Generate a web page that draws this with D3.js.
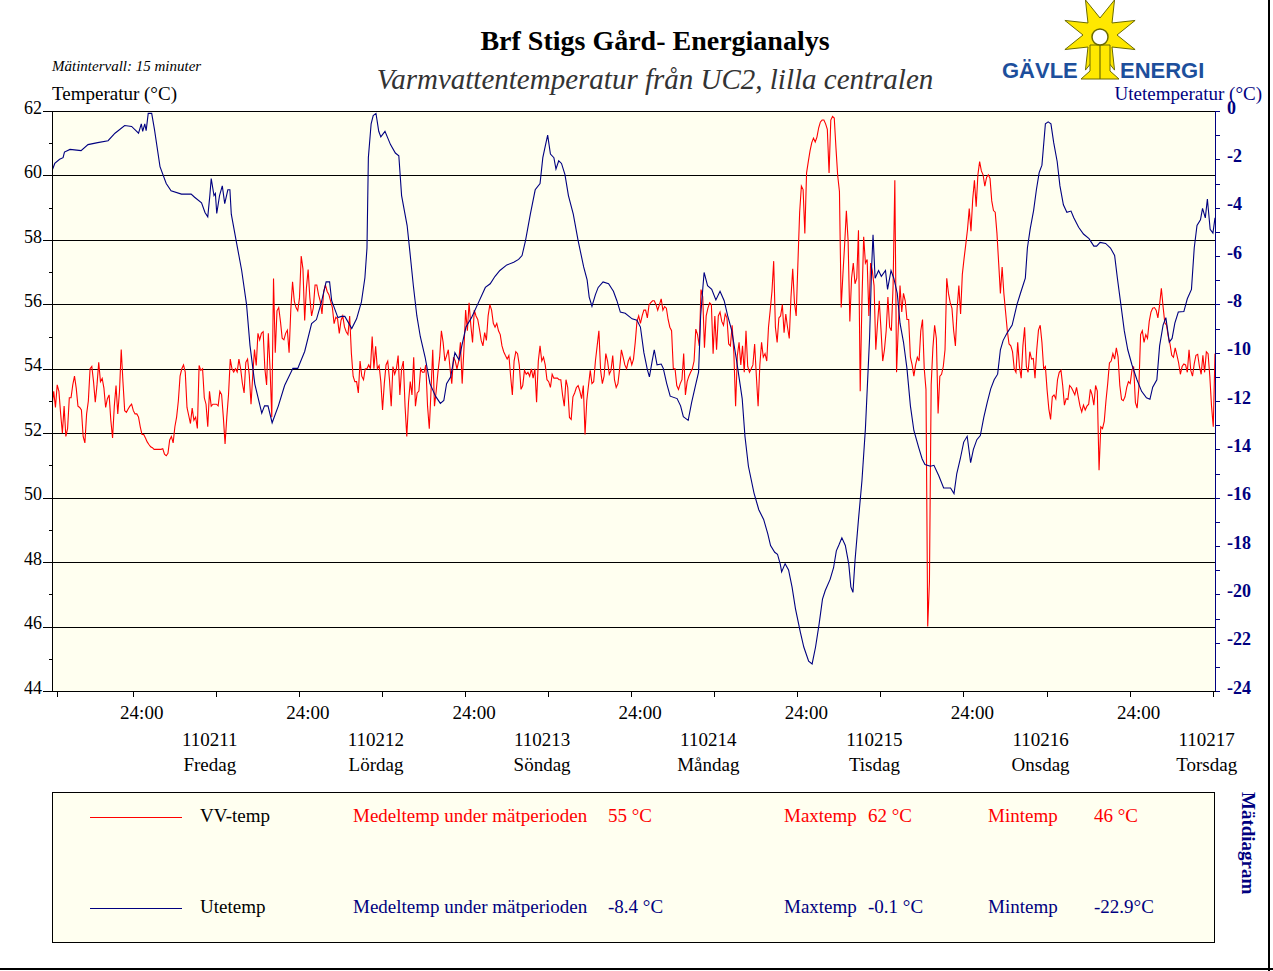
<!DOCTYPE html>
<html><head><meta charset="utf-8">
<script src="https://cdn.jsdelivr.net/npm/d3@7"></script>
<style>
body{margin:0;background:#fff}
svg{display:block}
</style>
</head><body>
<svg id="c" width="1273" height="971"></svg>
<script>
// ---------------- DATA ----------------
const startTime = new Date(2011, 1, 10, 12, 20);
const stepMinutes = 15;
const spanHours = 168;

// VV-temp (°C), one value per 15 minutes
const vvTemp = [
52.84,53.3,52.8,53.5,53.3,52.6,52.0,52.84,51.9,52.14,
53.1,53.1,53.5,53.77,53.4,52.84,52.8,52.72,51.9,51.7,
52.6,53.0,54.0,54.07,53.6,52.96,53.5,54.2,53.6,53.7,
53.4,52.8,53.07,53.19,52.4,51.85,52.84,53.48,52.6,53.3,
54.6,53.6,52.7,52.65,52.75,52.84,52.9,52.7,52.6,52.6,
52.5,52.2,51.96,51.96,51.85,51.73,51.65,51.58,51.55,51.5,
51.5,51.5,51.5,51.5,51.52,51.35,51.3,51.38,51.79,51.9,
51.7,52.2,52.5,53.0,53.77,54.0,54.12,53.9,52.8,52.55,
52.3,52.78,52.4,52.5,52.15,54.1,53.95,54.0,53.1,52.9,
52.2,53.3,52.84,52.9,52.9,52.9,52.85,53.3,53.2,52.5,
51.67,52.5,53.2,54.3,54.0,53.9,54.0,53.9,54.3,54.0,
53.55,53.25,54.2,54.3,53.8,52.9,53.8,54.6,54.1,55.1,
54.9,55.1,55.15,54.0,53.5,55.1,54.0,52.5,56.8,54.5,
55.8,55.9,55.47,54.95,54.9,55.1,55.2,54.5,55.85,56.7,
56.1,55.9,55.8,56.2,57.5,57.1,55.5,56.5,57.08,56.2,
55.64,55.9,56.6,56.6,56.3,56.1,55.7,56.4,56.6,56.4,
56.3,56.1,55.9,55.4,55.6,55.55,55.1,55.5,55.64,55.3,
55.15,55.06,55.64,54.47,53.77,53.6,53.6,53.25,54.24,53.77,
53.66,54.0,54.0,54.12,54.0,55.0,54.0,54.7,54.0,54.1,
53.6,52.72,53.54,54.12,54.24,53.66,52.84,54.07,53.83,54.0,
54.41,53.19,54.0,54.24,52.84,51.9,52.96,53.6,53.19,54.36,
52.84,53.25,53.31,54.0,53.89,53.89,54.12,52.84,52.14,53.31,
54.59,52.84,53.31,53.89,54.36,55.18,54.82,54.24,54.41,54.59,
54.0,53.54,54.36,54.24,54.0,54.24,54.82,53.54,54.59,55.82,
55.18,56.05,55.35,54.82,55.82,55.64,55.53,55.23,54.88,54.71,
55.12,54.88,55.64,55.99,55.82,55.41,55.29,55.41,55.18,55.06,
54.71,54.53,54.41,54.3,54.41,53.77,53.19,54.24,54.53,54.47,
54.12,53.36,53.48,53.95,53.83,53.89,53.77,54.0,53.71,54.0,
52.96,54.24,54.71,54.24,54.36,54.12,53.66,53.6,53.42,53.83,
53.71,53.71,53.71,53.66,53.66,53.19,52.84,53.66,53.42,52.49,
52.43,53.13,53.25,53.42,53.48,53.31,53.07,53.48,51.96,53.01,
53.48,53.95,53.54,53.6,54.24,54.71,55.18,53.95,53.54,53.77,
54.47,54.24,53.83,53.95,54.41,53.66,53.42,53.54,54.0,54.59,
54.36,54.12,54.0,54.24,54.36,54.12,54.3,54.82,55.47,55.64,
55.41,55.64,55.82,55.82,55.58,55.99,56.05,56.11,56.11,55.99,
55.82,55.99,56.17,55.82,55.93,55.88,55.53,55.29,55.18,54.0,
54.0,53.48,53.36,53.54,53.66,54.47,53.19,53.6,53.77,53.89,
54.0,54.24,55.23,55.06,54.71,56.46,56.23,54.65,55.64,55.88,
56.05,55.99,54.47,55.64,54.59,55.64,55.76,55.47,55.35,55.7,
55.58,54.77,54.71,55.35,54.47,52.84,54.41,54.82,54.12,54.71,
53.89,55.18,54.07,53.89,54.0,54.12,54.77,53.77,52.84,54.12,
54.82,54.36,54.47,54.24,55.29,55.82,56.4,57.34,55.29,54.82,
55.58,55.64,55.99,55.12,55.7,55.29,54.94,56.23,57.1,56.05,
55.64,57.28,58.85,59.67,59.56,58.2,60.08,60.43,60.76,61.02,
61.16,61.04,61.19,61.48,61.66,61.72,61.72,61.6,61.43,60.08,
61.72,61.83,61.78,60.84,59.99,59.5,55.9,56.93,57.86,58.9,
57.98,55.47,56.81,57.28,56.64,56.81,58.3,53.3,56.11,58.1,
57.28,57.39,55.64,57.28,57.04,56.58,54.59,55.41,56.11,55.23,
54.24,54.59,55.18,56.23,55.29,55.18,56.58,59.85,53.89,55.29,
56.58,55.76,56.34,56.11,55.53,55.53,54.36,54.12,53.77,54.12,
54.36,54.24,55.18,55.53,54.0,53.36,46.0,47.4,53.5,54.65,
55.35,54.94,52.61,53.77,53.83,54.07,54.59,56.81,56.34,56.05,
55.88,55.18,54.71,55.88,56.58,55.7,56.93,57.42,57.86,58.33,
58.97,58.27,59.26,59.85,59.03,60.02,60.43,60.14,60.02,59.67,
59.94,60.02,59.91,59.21,58.91,58.86,58.21,57.28,56.34,57.16,
56.34,55.76,55.18,54.77,54.71,54.53,54.0,53.89,54.82,54.07,
53.71,54.71,55.29,54.07,53.89,54.53,54.3,54.32,53.71,54.59,
55.2,55.35,54.82,54.0,54.07,53.33,52.75,52.43,53.13,53.19,
53.07,53.66,53.89,53.95,53.48,52.87,53.07,53.05,53.48,53.42,
53.31,53.19,53.42,53.13,52.84,52.66,52.87,52.72,52.84,52.9,
53.36,53.19,52.87,53.48,53.31,50.85,52.2,52.14,52.37,53.01,
53.54,54.18,54.24,54.47,54.3,54.65,54.36,53.48,53.05,53.01,
53.13,53.42,53.6,53.54,53.95,54.07,52.96,52.78,53.42,55.06,
55.18,54.82,55.06,54.94,55.47,55.76,55.88,55.9,55.82,55.58,
55.99,56.5,55.93,55.43,55.35,55.0,54.77,54.42,54.36,54.65,
54.42,54.18,53.83,54.07,54.15,54.12,53.89,54.59,53.95,53.77,
54.15,54.42,54.45,54.07,53.83,54.42,53.89,54.53,54.47,53.77,
52.84,52.2,54.47
];

// Utetemp (°C): [hours after start, value]
const uteSeries = [
[0,-2.48],[0.4,-2.17],[1.1,-2.0],[1.6,-1.93],[1.8,-1.7],[2.6,-1.59],[4.2,-1.64],[5.2,-1.39],[6.6,-1.31],[8.1,-1.23],
[9.1,-0.92],[10.5,-0.6],[11.5,-0.64],[12.5,-0.92],[12.9,-0.53],[13.1,-0.84],[13.4,-0.53],[13.6,-0.81],[13.9,-0.1],[14.4,-0.1],
[14.8,-0.76],[15.6,-2.3],[16.5,-3.0],[17.2,-3.3],[18.7,-3.44],[20.1,-3.44],[20.6,-3.57],[21.6,-3.8],[22.1,-4.2],[22.5,-4.38],
[22.8,-3.5],[23.0,-2.8],[23.4,-3.5],[23.6,-3.41],[23.8,-4.24],[24.2,-3.5],[24.6,-3.1],[24.95,-3.83],[25.4,-3.26],[25.7,-3.26],
[25.9,-4.27],[26.6,-5.36],[27.4,-6.6],[28.1,-8.0],[28.6,-9.7],[29.3,-11.3],[30.3,-12.5],[30.7,-12.2],[31.2,-12.2],[31.8,-12.9],
[32.7,-12.2],[33.6,-11.36],[34.8,-10.65],[35.5,-10.65],[36.5,-9.95],[37.5,-8.8],[38.2,-8.63],[38.9,-7.93],[39.6,-7.07],[40.1,-7.07],
[40.4,-7.85],[41.3,-8.55],[41.8,-8.5],[42.3,-8.5],[43.3,-9.0],[44.0,-8.6],[44.7,-7.9],[45.2,-6.9],[45.5,-5.67],[45.7,-1.93],
[46.1,-0.53],[46.4,-0.19],[46.8,-0.1],[47.2,-0.84],[47.5,-1.07],[48.1,-0.84],[48.9,-1.39],[49.6,-1.74],[50.1,-1.85],[50.5,-3.5],
[51.3,-4.74],[51.7,-5.83],[52.2,-7.23],[52.7,-8.47],[53.2,-9.33],[53.9,-10.19],[54.6,-11.28],[55.4,-11.8],[56.1,-12.1],[56.6,-11.98],
[57.0,-11.28],[57.6,-11.0],[58.2,-10.0],[58.8,-10.3],[59.2,-9.72],[59.8,-8.94],[60.6,-8.55],[61.6,-7.93],[62.6,-7.3],[63.3,-7.15],
[64.0,-6.84],[64.7,-6.6],[65.7,-6.37],[66.7,-6.26],[67.4,-6.14],[67.9,-5.98],[68.4,-5.36],[69.1,-4.27],[69.8,-3.26],[70.5,-3.0],
[70.9,-1.93],[71.3,-1.39],[71.6,-1.0],[72.0,-1.78],[72.5,-1.93],[72.8,-2.4],[73.2,-2.06],[73.6,-2.17],[74.1,-2.63],[74.6,-3.5],
[75.3,-4.27],[76.0,-5.36],[76.8,-6.45],[77.3,-6.99],[77.6,-7.7],[78.0,-8.08],[78.5,-7.6],[78.9,-7.3],[79.6,-7.07],[80.4,-7.15],
[81.1,-7.46],[81.6,-7.85],[82.1,-8.32],[82.8,-8.37],[83.8,-8.6],[84.5,-8.66],[85.0,-8.94],[85.5,-10.0],[86.0,-10.7],[86.3,-11.0],
[86.7,-10.34],[87.0,-9.88],[87.4,-10.5],[88.0,-10.47],[88.3,-10.65],[88.8,-11.28],[89.3,-11.8],[90.3,-11.9],[90.8,-12.2],[91.2,-12.65],
[91.9,-12.8],[92.4,-12.06],[92.9,-11.43],[93.4,-10.81],[93.7,-8.47],[94.0,-7.38],[94.2,-6.68],[94.7,-7.23],[95.3,-7.38],[95.9,-7.82],
[96.5,-7.46],[97.1,-7.85],[97.6,-8.47],[98.2,-9.1],[98.9,-10.34],[99.7,-11.9],[100.1,-13.46],[100.6,-14.7],[101.4,-15.8],[102.1,-16.5],
[102.8,-16.9],[103.4,-17.5],[103.8,-17.98],[104.4,-18.26],[104.8,-18.34],[105.2,-18.75],[105.4,-19.07],[105.9,-18.73],[106.4,-18.99],[106.9,-19.69],
[107.4,-20.6],[108.1,-21.56],[108.6,-22.18],[109.3,-22.77],[109.8,-22.88],[110.3,-22.18],[110.8,-21.25],[111.3,-20.2],[111.7,-19.84],[112.4,-19.38],
[112.9,-18.9],[113.3,-18.2],[113.7,-17.94],[114.1,-17.66],[114.6,-17.98],[115.1,-18.75],[115.4,-19.69],[115.7,-19.92],[116.0,-18.6],[116.5,-16.9],
[117.0,-15.3],[117.5,-13.15],[117.8,-11.28],[118.1,-9.4],[118.4,-6.45],[118.6,-5.12],[118.9,-6.92],[119.4,-6.6],[119.8,-6.84],[120.4,-6.6],
[120.7,-7.38],[121.2,-6.6],[121.6,-6.92],[122.1,-7.54],[122.5,-8.78],[123.0,-9.56],[123.5,-10.65],[124.0,-12.2],[124.5,-13.22],[125.2,-13.93],
[125.7,-14.4],[126.1,-14.63],[126.9,-14.7],[127.4,-14.66],[128.1,-15.09],[128.8,-15.6],[129.8,-15.6],[130.3,-15.83],[130.7,-15.0],[131.2,-14.4],
[131.7,-13.7],[132.2,-13.46],[132.7,-14.55],[133.1,-14.0],[133.6,-13.6],[134.1,-13.43],[134.6,-12.68],[135.1,-12.06],[135.6,-11.5],[136.1,-11.12],
[136.6,-10.89],[137.0,-9.88],[137.4,-9.49],[138.0,-9.17],[138.7,-8.86],[139.4,-8.0],[139.9,-7.54],[140.6,-6.92],[140.9,-5.67],[141.3,-4.89],
[141.8,-4.11],[142.2,-3.26],[142.6,-2.55],[143.0,-2.24],[143.5,-0.53],[143.9,-0.45],[144.3,-0.53],[144.7,-1.31],[145.2,-2.09],[145.6,-3.1],
[146.1,-3.88],[146.6,-4.19],[147.2,-4.14],[147.6,-4.42],[148.3,-4.81],[149.0,-5.09],[149.8,-5.28],[150.5,-5.59],[150.9,-5.59],[151.4,-5.44],
[152.2,-5.48],[152.9,-5.67],[153.5,-5.98],[153.9,-6.92],[154.4,-8.0],[154.9,-9.1],[155.4,-9.88],[156.0,-10.5],[156.7,-11.1],[157.4,-11.6],
[158.1,-11.87],[158.6,-11.93],[159.0,-11.43],[159.6,-11.12],[160.0,-9.72],[160.5,-8.86],[160.9,-8.55],[161.4,-9.56],[161.8,-9.41],[162.2,-8.78],
[162.7,-8.32],[163.5,-8.3],[164.0,-7.77],[164.6,-7.38],[165.0,-5.67],[165.4,-4.74],[165.9,-4.5],[166.2,-4.03],[166.6,-4.42],[166.9,-3.64],
[167.3,-4.9],[167.7,-5.05],[168.0,-4.42]
];

const leftTicks = [62,60,58,56,54,52,50,48,46,44];
const leftMinorTicks = [61,59,57,55,53,51,49,47,45];
const gridValues = [60,58,56,54,52,50,48,46];
const rightTicks = d3.range(-24, 1);
const dayDates = ["110211","110212","110213","110214","110215","110216","110217"];
const dayNames = ["Fredag","Lördag","Söndag","Måndag","Tisdag","Onsdag","Torsdag"];
const midnightLabel = "24:00";

const legendNames = ["VV-temp", "Utetemp"];
const legendColors = ["#ff0000", "#000080"];
const meanTexts = ["55 °C", "-8.4 °C"];
const maxTexts = ["62 °C", "-0.1 °C"];
const minTexts = ["46 °C", "-22.9°C"];

// ---------------- CHART ----------------
const SERIF = '"Liberation Serif","Times New Roman",serif';
const SANS = '"Liberation Sans",Arial,sans-serif';
const NAVY = "#000080";
const M = {left:52, right:1215, top:111, bottom:691};
const svg = d3.select("#c");
const hourMs = 3600e3;
const tAt = h => new Date(startTime.getTime() + h * hourMs);

const x = d3.scaleTime().domain([startTime, tAt(spanHours)]).range([M.left, M.right]);
const yL = d3.scaleLinear().domain([44, 62]).range([M.bottom, M.top]);
const yR = d3.scaleLinear().domain([-24, 0]).range([M.bottom, M.top]);
const px = v => Math.round(v) + 0.5;

// frame
svg.append("line").attr("x1",1269).attr("x2",1269).attr("y1",0).attr("y2",971).attr("stroke","#000").attr("stroke-width",2);
svg.append("line").attr("x1",0).attr("x2",1273).attr("y1",969).attr("y2",969).attr("stroke","#000").attr("stroke-width",2);

// plot background
svg.append("rect").attr("x",M.left).attr("y",M.top).attr("width",M.right-M.left).attr("height",M.bottom-M.top).attr("fill","#FFFFF0");

// grid
svg.append("g").attr("shape-rendering","crispEdges").selectAll("line").data(gridValues).join("line")
  .attr("x1",M.left).attr("x2",M.right)
  .attr("y1",d=>px(yL(d))).attr("y2",d=>px(yL(d)))
  .attr("stroke","#000");
svg.append("line").attr("shape-rendering","crispEdges").attr("x1",M.left).attr("x2",M.right).attr("y1",px(M.top)).attr("y2",px(M.top)).attr("stroke","#000");

// clip
svg.append("clipPath").attr("id","clip").append("rect")
  .attr("x",M.left).attr("y",M.top).attr("width",M.right-M.left).attr("height",M.bottom-M.top+1);

// lines
const redLine = d3.line().x((d,i)=>x(new Date(startTime.getTime()+i*stepMinutes*60e3))).y(d=>yL(d));
const blueLine = d3.line().x(d=>x(tAt(d[0]))).y(d=>yR(d[1]));
const gLines = svg.append("g").attr("clip-path","url(#clip)");
gLines.append("path").datum(vvTemp).attr("d",redLine).attr("fill","none").attr("stroke","#ff0000").attr("stroke-width",1.1);
gLines.append("path").datum(uteSeries).attr("d",blueLine).attr("fill","none").attr("stroke",NAVY).attr("stroke-width",1.1);

// left axis
const gL = svg.append("g").attr("transform",`translate(${M.left},0)`)
  .call(d3.axisLeft(yL).tickValues(leftTicks).tickSize(9).tickSizeOuter(0).tickPadding(1).tickFormat(d=>String(d)));
gL.attr("font-family",SERIF).attr("font-size",18).attr("shape-rendering","crispEdges");
gL.selectAll("text").attr("dy","0.12em").attr("fill","#000");
gL.selectAll("line,path").attr("stroke","#000");
const gLm = svg.append("g").attr("transform",`translate(${M.left},0)`)
  .call(d3.axisLeft(yL).tickValues(leftMinorTicks).tickSize(3).tickSizeOuter(0).tickFormat(""));
gLm.select(".domain").remove();
gLm.attr("shape-rendering","crispEdges").selectAll("line").attr("stroke","#000");

// right axis
const gR = svg.append("g").attr("transform",`translate(${M.right},0)`)
  .call(d3.axisRight(yR).tickValues(rightTicks).tickSize(5).tickSizeOuter(0).tickPadding(7)
    .tickFormat(d => d % 2 === 0 ? String(d) : ""));
gR.attr("font-family",SERIF).attr("font-size",18).attr("font-weight","bold").attr("shape-rendering","crispEdges");
gR.selectAll("text").attr("dy","0.12em").attr("fill",NAVY);
gR.selectAll("line,path").attr("stroke",NAVY);

// bottom axis
const firstTick = d3.timeHour.ceil(startTime);
const day0 = new Date(2011,1,11,0,0);
const lastTick = new Date(2011,1,17,12,0);
const xTickTimes = [firstTick].concat(d3.timeHour.every(12).range(day0, new Date(lastTick.getTime()+1)));
const gB = svg.append("g").attr("transform",`translate(0,${M.bottom})`)
  .call(d3.axisBottom(x).tickValues(xTickTimes).tickSize(6).tickSizeOuter(0).tickFormat(""));
gB.attr("shape-rendering","crispEdges").selectAll("line,path").attr("stroke","#000");

const midnights = d3.timeDay.range(day0, new Date(2011,1,17,0,1));
svg.append("g").attr("font-family",SERIF).attr("font-size",19).attr("text-anchor","middle")
  .selectAll("text").data(midnights).join("text")
  .attr("x",d=>x(d)+9).attr("y",719).text(midnightLabel);
const noons = midnights.map(d=>d3.timeHour.offset(d,12));
const gD = svg.append("g").attr("font-family",SERIF).attr("font-size",19).attr("text-anchor","middle");
gD.selectAll("text.date").data(noons).join("text").attr("class","date")
  .attr("x",d=>x(d)-6).attr("y",746).text((d,i)=>dayDates[i]);
gD.selectAll("text.day").data(noons).join("text").attr("class","day")
  .attr("x",d=>x(d)-6).attr("y",771).text((d,i)=>dayNames[i]);

// titles
svg.append("text").attr("x",655).attr("y",50).attr("text-anchor","middle")
  .attr("font-family",SERIF).attr("font-size",28).attr("font-weight","bold").text("Brf Stigs Gård- Energianalys");
svg.append("text").attr("x",655).attr("y",89).attr("text-anchor","middle")
  .attr("font-family",SERIF).attr("font-size",29).attr("font-style","italic").attr("fill","#333")
  .text("Varmvattentemperatur från UC2, lilla centralen");
svg.append("text").attr("x",52).attr("y",71).attr("font-family",SERIF).attr("font-size",15)
  .attr("font-style","italic").text("Mätintervall: 15 minuter");
svg.append("text").attr("x",52).attr("y",100).attr("font-family",SERIF).attr("font-size",19).text("Temperatur (°C)");
svg.append("text").attr("x",1262).attr("y",100).attr("text-anchor","end").attr("font-family",SERIF)
  .attr("font-size",19).attr("fill",NAVY).text("Utetemperatur (°C)");

// logo
const logo = svg.append("g");
const cx = 1100, cy = 35, R = 38, r = 17;
const starPts = d3.range(16).map(i => {
  const a = -Math.PI/2 + Math.PI/8 + i*Math.PI/8;
  const rad = i % 2 === 0 ? R : r;
  return [cx + rad*Math.cos(a), cy + rad*Math.sin(a)];
});
logo.append("polygon").attr("points",starPts.map(p=>p.join(",")).join(" "))
  .attr("fill","#FFE800").attr("stroke","#6b6b00").attr("stroke-width",1);
logo.append("polygon").attr("points","1090,45 1090,71 1081,79 1119,79 1110,71 1110,45")
  .attr("fill","#FFE800").attr("stroke","#6b6b00").attr("stroke-width",1);
logo.append("line").attr("x1",1100).attr("x2",1100).attr("y1",43).attr("y2",79).attr("stroke","#6b6b00").attr("stroke-width",1.2);
logo.append("circle").attr("cx",1100).attr("cy",37).attr("r",8).attr("fill","#fff").attr("stroke","#6b6b00").attr("stroke-width",1.5);
logo.append("text").attr("x",1002).attr("y",78).attr("font-family",SANS).attr("font-weight","bold")
  .attr("font-size",22).attr("fill","#1d4f9c").text("GÄVLE");
logo.append("text").attr("x",1120).attr("y",78).attr("font-family",SANS).attr("font-weight","bold")
  .attr("font-size",22).attr("fill","#1d4f9c").text("ENERGI");

// legend box
svg.append("rect").attr("x",52.5).attr("y",792.5).attr("width",1162).attr("height",150)
  .attr("fill","#FFFFF0").attr("stroke","#000").attr("stroke-width",1);
const rowsY = [822, 913];
const lg = svg.append("g").attr("font-family",SERIF).attr("font-size",19);
legendNames.forEach((name,i)=>{
  const y = rowsY[i], c = legendColors[i];
  lg.append("line").attr("x1",90).attr("x2",182).attr("y1",y-4.5).attr("y2",y-4.5).attr("stroke",c).attr("stroke-width",1);
  lg.append("text").attr("x",200).attr("y",y).attr("fill","#000").text(name);
  lg.append("text").attr("x",353).attr("y",y).attr("fill",c).text("Medeltemp under mätperioden");
  lg.append("text").attr("x",608).attr("y",y).attr("fill",c).text(meanTexts[i]);
  lg.append("text").attr("x",784).attr("y",y).attr("fill",c).text("Maxtemp");
  lg.append("text").attr("x",868).attr("y",y).attr("fill",c).text(maxTexts[i]);
  lg.append("text").attr("x",988).attr("y",y).attr("fill",c).text("Mintemp");
  lg.append("text").attr("x",1094).attr("y",y).attr("fill",c).text(minTexts[i]);
});

// vertical caption
svg.append("text").attr("transform","translate(1242,792) rotate(90)")
  .attr("font-family",SERIF).attr("font-size",19).attr("font-weight","bold").attr("fill",NAVY).text("Mätdiagram");
</script>
</body></html>
